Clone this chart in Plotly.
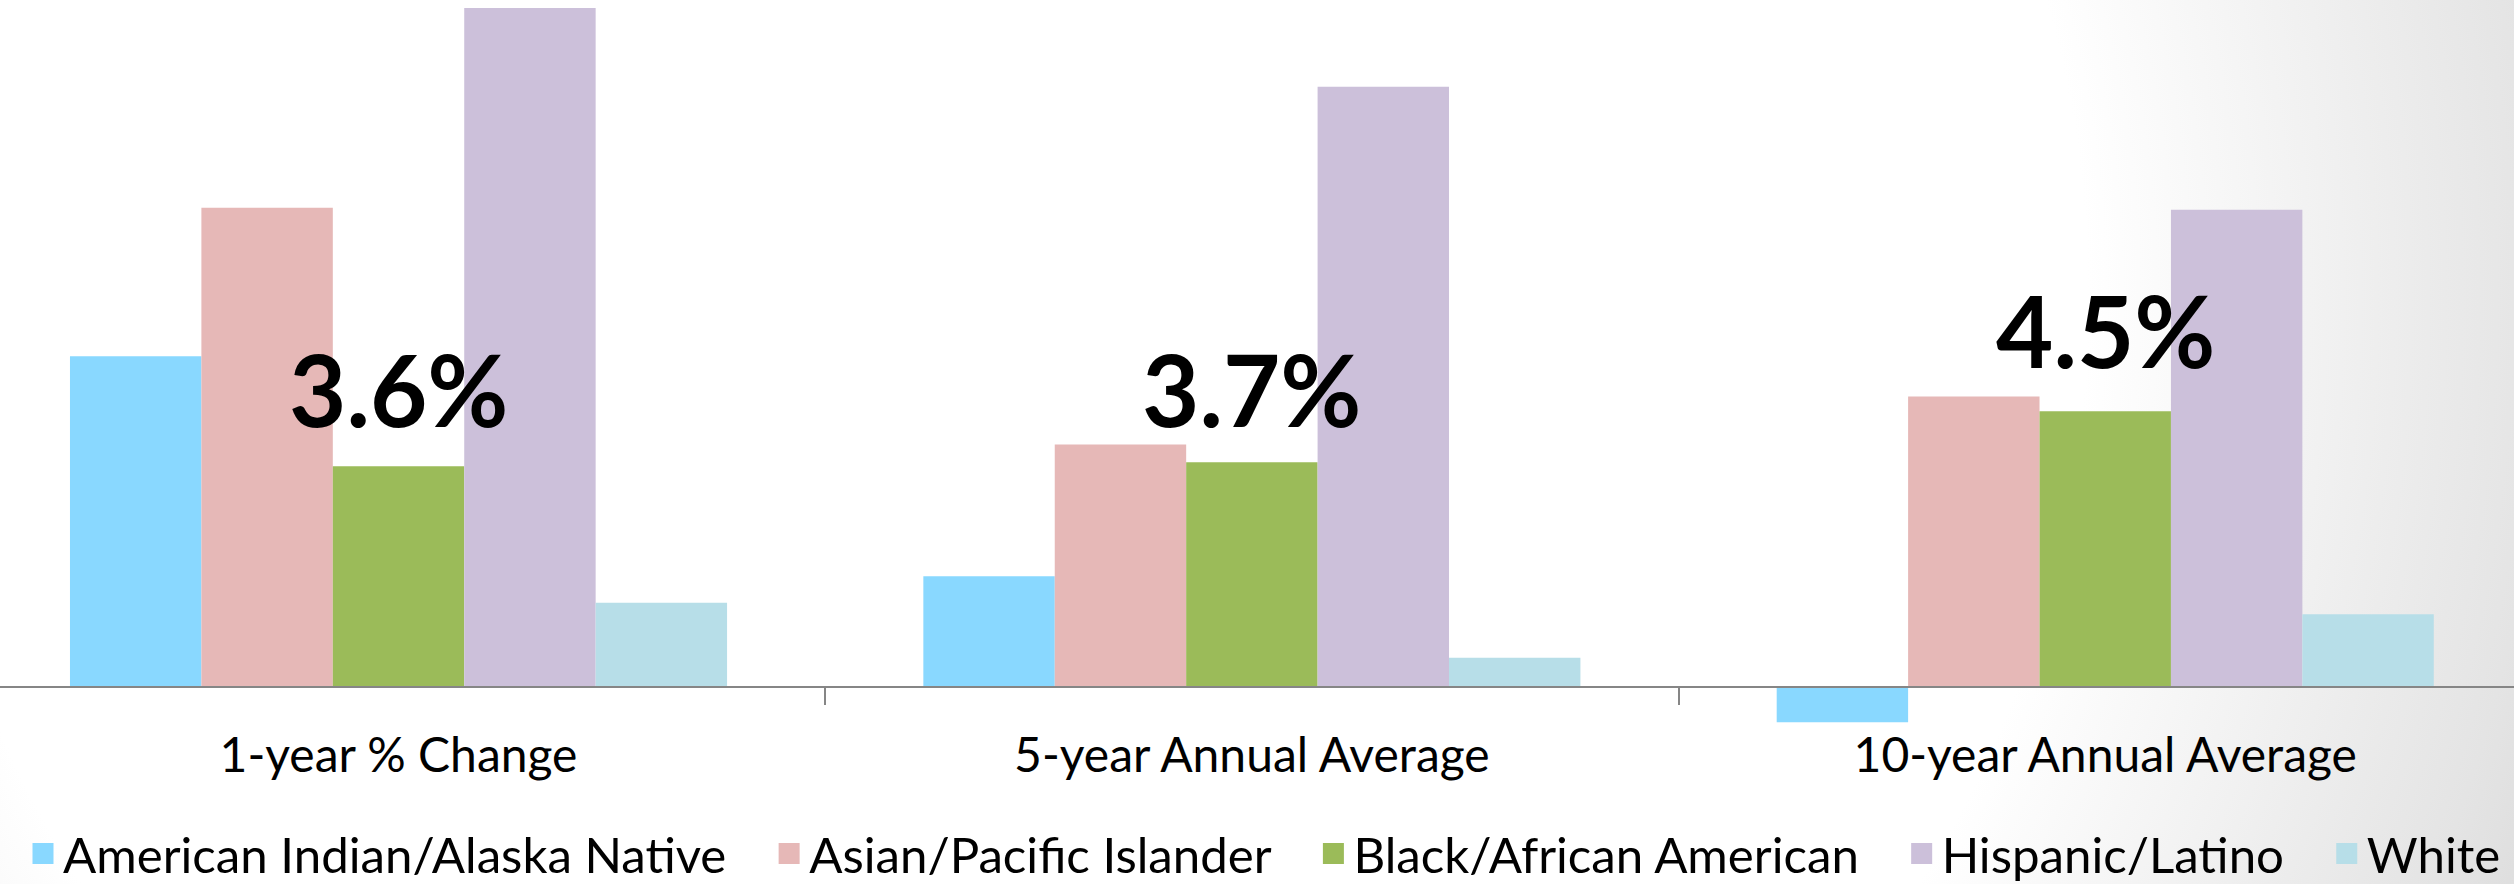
import base64

import plotly.graph_objects as go

categories = ["1-year % Change", "5-year Annual Average", "10-year Annual Average"]
groups = [
    "American Indian/Alaska Native",
    "Asian/Pacific Islander",
    "Black/African American",
    "Hispanic/Latino",
    "White",
]
american_indian = [4.87, 1.63, -0.52]
asian_pacific = [7.06, 3.57, 4.28]
black_african = [3.25, 3.31, 4.06]
hispanic_latino = [10.00, 8.84, 7.03]
white = [1.24, 0.43, 1.07]
totals = ["3.6%", "3.7%", "4.5%"]

series = [american_indian, asian_pacific, black_african, hispanic_latino, white]
colors = ["#89D8FF", "#E6B8B7", "#9BBB59", "#CCC0DA", "#B7DEE8"]

W, H = 2514, 892       # a touch taller than the window so the legend sits low
zero_px = 687          # pixel row of the zero line
px_per_unit = 67.9
y_top = zero_px / px_per_unit
y_bottom = -(H - zero_px) / px_per_unit

FONT = "Lato, 'Liberation Sans', sans-serif"
PAD = "\u00a0" * 3     # extra room after each legend entry

# slide-style radial background (white centre, grey towards the right corners)
bg_svg = f"""<svg xmlns="http://www.w3.org/2000/svg" width="{W}" height="{H}" viewBox="0 0 {W} {H}">
<defs><radialGradient id="g" gradientUnits="userSpaceOnUse" cx="1000" cy="300" r="1700">
<stop offset="0" stop-color="#ffffff"/>
<stop offset="0.64" stop-color="#ffffff"/>
<stop offset="0.91" stop-color="#e4e4e4"/>
<stop offset="1" stop-color="#d9d9d9"/>
</radialGradient></defs>
<rect width="{W}" height="{H}" fill="url(#g)"/></svg>"""
bg_uri = "data:image/svg+xml;base64," + base64.b64encode(bg_svg.encode()).decode()

fig = go.Figure()

for name, vals, color in zip(groups, series, colors):
    fig.add_trace(
        go.Bar(
            x=categories,
            y=vals,
            name=name,
            marker=dict(color=color, line=dict(width=0)),
            showlegend=False,
        )
    )

# legend keys (bigger squares than the bar legend glyph)
for i, (name, color) in enumerate(zip(groups, colors)):
    fig.add_trace(
        go.Scatter(
            x=[None],
            y=[None],
            mode="markers",
            name=name + (PAD if i < len(groups) - 1 else ""),
            marker=dict(symbol="square", size=16, color=color, line=dict(width=5, color=color)),
        )
    )

# group totals
label_y = [4.4, 4.4, 5.27]
for cat, txt, ly in zip(categories, totals, label_y):
    fig.add_annotation(
        x=cat,
        y=ly,
        text=f"<b>{txt}</b>",
        showarrow=False,
        font=dict(family=FONT, size=99, color="#000000"),
    )

fig.add_layout_image(
    source=bg_uri,
    xref="paper",
    yref="paper",
    x=0,
    y=1,
    sizex=1,
    sizey=1,
    xanchor="left",
    yanchor="top",
    sizing="stretch",
    layer="below",
)

fig.update_layout(
    width=W,
    height=H,
    margin=dict(l=0, r=0, t=0, b=0),
    paper_bgcolor="#FFFFFF",
    plot_bgcolor="rgba(0,0,0,0)",
    barmode="group",
    bargap=0.23,
    bargroupgap=0,
    font=dict(family=FONT, color="#000000"),
    legend=dict(
        orientation="h",
        x=23 / W,
        xanchor="left",
        y=0.0,
        yanchor="bottom",
        font=dict(family=FONT, size=49.2, color="#000000"),
        bgcolor="rgba(0,0,0,0)",
        itemsizing="trace",
    ),
)

fig.update_xaxes(
    type="category",
    range=[-0.467, 2.479],
    anchor="free",
    position=(H - zero_px) / H,
    showline=True,
    linecolor="#868686",
    linewidth=2,
    ticks="outside",
    tickson="boundaries",
    ticklen=17,
    tickwidth=1.5,
    tickcolor="#868686",
    ticklabelstandoff=26,
    tickfont=dict(family=FONT, size=48, color="#000000"),
    showgrid=False,
    zeroline=False,
    automargin=False,
)

fig.update_yaxes(
    range=[y_bottom, y_top],
    visible=False,
    showgrid=False,
    zeroline=False,
    automargin=False,
)

fig.write_html(
    "out.html",
    config={"displayModeBar": False},
    post_script=(
        "document.body.style.margin='0';"
        "document.body.style.overflow='hidden';"
        "document.documentElement.style.overflow='hidden';"
    ),
)
